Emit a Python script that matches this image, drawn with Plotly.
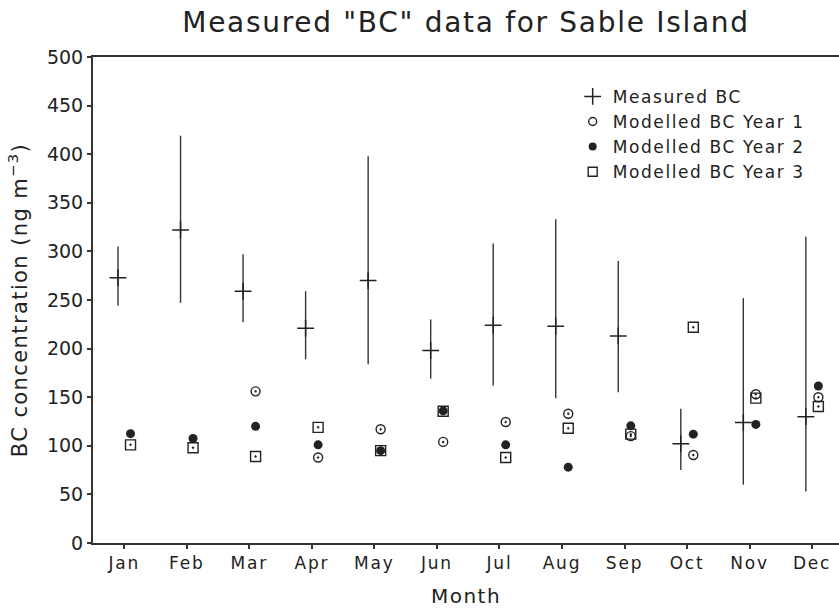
import plotly.graph_objects as go

# Monthly black-carbon concentrations at Sable Island (ng m^-3)
months = ["Jan", "Feb", "Mar", "Apr", "May", "Jun",
          "Jul", "Aug", "Sep", "Oct", "Nov", "Dec"]

measured_mean = [273, 322, 259, 221, 270, 198, 224, 223, 213, 102, 124, 130]
measured_high = [305, 419, 297, 259, 398, 230, 308, 333, 290, 138, 252, 315]
measured_low = [244, 247, 227, 189, 184, 169, 162, 149, 155, 75, 60, 53]

model_year1 = [None, None, 156, 88, 117, 104, 124.5, 133, 110, 90.5, 153, 150]
model_year2 = [112.5, 107.5, 120, 101, 95, 136, 101, 78, 120.5, 112, 122, 161.5]
model_year3 = [101, 98, 89, 119, 95, 135.5, 88, 118, 112, 222, 149, 140.5]

INK = "#222222"
FONT = "DejaVu Sans"


def spaced(text, px):
    """Wrap text in a span with extra letter spacing."""
    return f'<span style="letter-spacing:{px}px">{text}</span>'


month_idx = list(range(1, len(months) + 1))
x_meas = [m - 0.1 for m in month_idx]
x_model = [m + 0.1 for m in month_idx]

err_plus = [h - m for h, m in zip(measured_high, measured_mean)]
err_minus = [m - l for m, l in zip(measured_mean, measured_low)]

fig = go.Figure()

# measured monthly mean with min/max range
fig.add_trace(go.Scatter(
    x=x_meas, y=measured_mean, mode="markers", name=spaced("Measured BC", 1.6),
    marker=dict(symbol="cross-thin", size=12, color=INK,
                line=dict(width=1.5, color=INK)),
    error_y=dict(type="data", symmetric=False, array=err_plus,
                 arrayminus=err_minus, width=0, thickness=1.4, color="#333333"),
    showlegend=True,
))

# modelled years (markers carry a centre dot on the plot)
fig.add_trace(go.Scatter(
    x=x_model, y=model_year1, mode="markers", name="Modelled BC Year 1",
    marker=dict(symbol="circle-open-dot", size=9, color=INK,
                line=dict(width=1.4, color=INK)),
    showlegend=False,
))
fig.add_trace(go.Scatter(
    x=x_model, y=model_year2, mode="markers", name="Modelled BC Year 2",
    marker=dict(symbol="circle", size=9, color=INK, line=dict(width=0)),
    showlegend=False,
))
fig.add_trace(go.Scatter(
    x=x_model, y=model_year3, mode="markers", name="Modelled BC Year 3",
    marker=dict(symbol="square-open-dot", size=10, color=INK,
                line=dict(width=1.4, color=INK)),
    showlegend=False,
))

# legend entries with plain symbols
fig.add_trace(go.Scatter(
    x=[None], y=[None], mode="markers", name=spaced("Modelled BC Year 1", 1.6),
    marker=dict(symbol="circle-open", size=8, color=INK,
                line=dict(width=1.4, color=INK)),
))
fig.add_trace(go.Scatter(
    x=[None], y=[None], mode="markers", name=spaced("Modelled BC Year 2", 1.6),
    marker=dict(symbol="circle", size=8, color=INK),
))
fig.add_trace(go.Scatter(
    x=[None], y=[None], mode="markers", name=spaced("Modelled BC Year 3", 1.6),
    marker=dict(symbol="square-open", size=9, color=INK,
                line=dict(width=1.4, color=INK)),
))

fig.update_layout(
    width=839, height=608, autosize=False,
    margin=dict(l=93, r=0, t=57, b=65, pad=0),
    paper_bgcolor="white", plot_bgcolor="white",
    font=dict(family=FONT, size=18, color=INK),
    title=dict(text=spaced('Measured "BC" data for Sable Island', 1.7),
               x=0.5, xref="paper", xanchor="center",
               y=1 - 22 / 608, yref="container", yanchor="middle",
               font=dict(family=FONT, size=28, color=INK)),
    legend=dict(x=0.643, y=0.955, xanchor="left", yanchor="top",
                bgcolor="rgba(0,0,0,0)", borderwidth=0,
                font=dict(family=FONT, size=17, color=INK),
                itemwidth=30, tracegroupgap=0),
    xaxis=dict(range=[0.5, 12.43], tickmode="array", tickvals=month_idx,
               ticktext=[spaced(m, 1.8) for m in months],
               ticks="outside", ticklen=4, tickwidth=1.5,
               tickcolor="#333333", showline=True, linewidth=2,
               linecolor="#333333", mirror=True, showgrid=False,
               zeroline=False, tickfont=dict(size=17),
               title=dict(text=spaced("Month", 1.5), font=dict(size=20),
                          standoff=22)),
    yaxis=dict(range=[0, 500], tick0=0, dtick=50, ticks="outside",
               ticklen=4, tickwidth=1.5, tickcolor="#333333", showline=True,
               linewidth=2, linecolor="#333333", showgrid=False,
               zeroline=False, tickfont=dict(size=19),
               title=dict(text=spaced("BC concentration (ng m<sup>−3</sup>)", 1.4),
                          font=dict(size=21), standoff=14)),
)

fig.write_html("out.html")
